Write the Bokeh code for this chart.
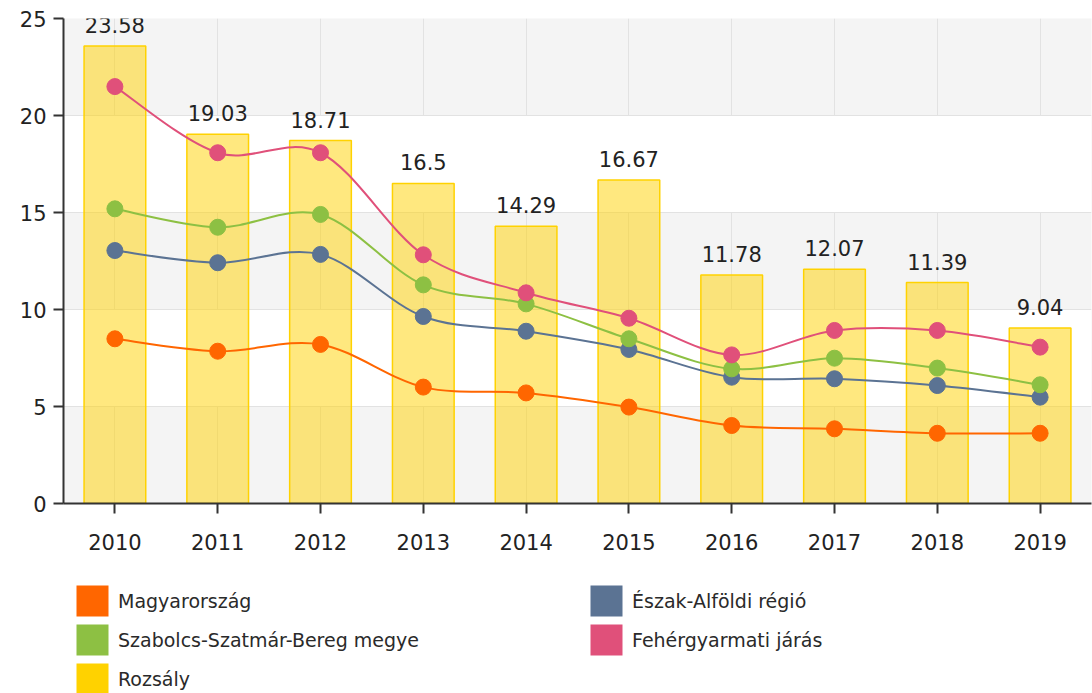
from bokeh.plotting import figure
from bokeh.layouts import column
from bokeh.models import (ColumnDataSource, Range1d, FixedTicker, Legend, LegendItem)
from bokeh.embed import file_html
from bokeh.resources import INLINE

years = ["2010", "2011", "2012", "2013", "2014", "2015", "2016", "2017", "2018", "2019"]
rozsaly = [23.58, 19.03, 18.71, 16.5, 14.29, 16.67, 11.78, 12.07, 11.39, 9.04]
magyarorszag = [8.49, 7.85, 8.2, 6.0, 5.7, 4.97, 4.02, 3.85, 3.62, 3.62]
eszak_alfold = [13.04, 12.41, 12.84, 9.64, 8.88, 7.94, 6.51, 6.43, 6.08, 5.48]
szabolcs = [15.19, 14.24, 14.9, 11.27, 10.29, 8.49, 6.94, 7.49, 6.98, 6.12]
fehergyarmat = [21.49, 18.08, 18.08, 12.82, 10.86, 9.55, 7.66, 8.92, 8.92, 8.06]
y_ticks = [0, 5, 10, 15, 20, 25]

series_names = ["Magyarország", "Észak-Alföldi régió", "Szabolcs-Szatmár-Bereg megye",
                "Fehérgyarmati járás", "Rozsály"]
colors = {"Magyarország": "#FF6600", "Észak-Alföldi régió": "#5B7393",
          "Szabolcs-Szatmár-Bereg megye": "#8DC043", "Fehérgyarmati járás": "#E0507A",
          "Rozsály": "#FFD200"}

FONT = "DejaVu Sans"
xs = list(range(len(years)))

p = figure(width=1092, height=560, output_backend="svg", toolbar_location=None,
           x_range=Range1d(-0.5, len(years) - 0.5), y_range=Range1d(0, 25),
           min_border_left=63, min_border_right=1, min_border_top=18, min_border_bottom=57)
p.outline_line_color = None
p.background_fill_color = "#F4F4F4"
p.border_fill_color = "#FFFFFF"

# grids
p.ygrid.ticker = FixedTicker(ticks=y_ticks)
p.ygrid.grid_line_color = "#E2E2E2"
p.ygrid.band_fill_color = "#FFFFFF"
p.ygrid.band_fill_alpha = 1.0
p.xgrid.ticker = FixedTicker(ticks=xs)
p.xgrid.grid_line_color = "#E2E2E2"

# axes
p.yaxis.ticker = FixedTicker(ticks=y_ticks)
p.xaxis.ticker = FixedTicker(ticks=xs)
p.xaxis.major_label_overrides = {i: y for i, y in enumerate(years)}
for ax in (p.xaxis[0], p.yaxis[0]):
    ax.axis_line_color = "#333333"
    ax.axis_line_width = 2
    ax.major_tick_line_color = "#333333"
    ax.major_tick_line_width = 2
    ax.major_tick_out = 10
    ax.major_tick_in = 0
    ax.minor_tick_line_color = None
    ax.major_label_text_font = FONT
    ax.major_label_text_font_size = "21px"
    ax.major_label_text_color = "#222222"
p.xaxis.major_label_standoff = 20
p.yaxis.major_label_standoff = 7

# bars
bar_src = ColumnDataSource(dict(x=xs, top=rozsaly, lab=[str(v) for v in rozsaly]))
p.vbar(x="x", top="top", width=0.6, source=bar_src, fill_color=colors["Rozsály"],
       fill_alpha=0.5, line_color=colors["Rozsály"], line_width=1.5)
p.text(x="x", y="top", text="lab", source=bar_src, text_align="center",
       text_baseline="bottom", y_offset=-13, text_font={"value": FONT},
       text_font_size="21px", text_color="#222222")


def bezier_source(ys):
    n = len(ys)
    px = xs
    d = dict(x0=[], y0=[], x1=[], y1=[], cx0=[], cy0=[], cx1=[], cy1=[])
    for i in range(n - 1):
        im1 = max(i - 1, 0)
        ip2 = min(i + 2, n - 1)
        d["x0"].append(px[i]); d["y0"].append(ys[i])
        d["x1"].append(px[i + 1]); d["y1"].append(ys[i + 1])
        d["cx0"].append(px[i] + (px[i + 1] - px[im1]) / 6.0)
        d["cy0"].append(ys[i] + (ys[i + 1] - ys[im1]) / 6.0)
        d["cx1"].append(px[i + 1] - (px[ip2] - px[i]) / 6.0)
        d["cy1"].append(ys[i + 1] - (ys[ip2] - ys[i]) / 6.0)
    return ColumnDataSource(d)


line_series = [("Magyarország", magyarorszag), ("Észak-Alföldi régió", eszak_alfold),
               ("Szabolcs-Szatmár-Bereg megye", szabolcs), ("Fehérgyarmati járás", fehergyarmat)]
for name, ys in line_series:
    c = colors[name]
    p.bezier(x0="x0", y0="y0", x1="x1", y1="y1", cx0="cx0", cy0="cy0", cx1="cx1", cy1="cy1",
             source=bezier_source(ys), line_color=c, line_width=2)
for name, ys in line_series:
    c = colors[name]
    p.scatter(x=xs, y=ys, size=16, fill_color=c, line_color=c, line_width=1)

# legend figure (swatch renderers are zero-size, invisible in the plot area)
lg = figure(width=1092, height=133, output_backend="svg", toolbar_location=None,
            x_range=Range1d(0, 1), y_range=Range1d(0, 1),
            min_border_left=0, min_border_right=0, min_border_top=0, min_border_bottom=0)
lg.axis.visible = False
lg.grid.visible = False
lg.outline_line_color = None
lg.background_fill_color = "#FFFFFF"
items = []
for name in series_names:
    r = lg.vbar(x=[0], top=[0], bottom=[0], width=0, fill_color=colors[name],
                line_color=colors[name], line_alpha=0)
    items.append(LegendItem(label=name, renderers=[r]))

legend = Legend(items=items, orientation="horizontal", ncols=2, location=(9, -5),
                glyph_width=40, glyph_height=39, label_standoff=6, label_width=468,
                spacing=0, margin=0, padding=0,
                label_text_font=FONT, label_text_font_size="19px", label_text_color="#2A2A2A",
                border_line_color=None, background_fill_alpha=0)
lg.add_layout(legend)

open("out.html", "w").write(file_html(column(p, lg, spacing=0), INLINE))
